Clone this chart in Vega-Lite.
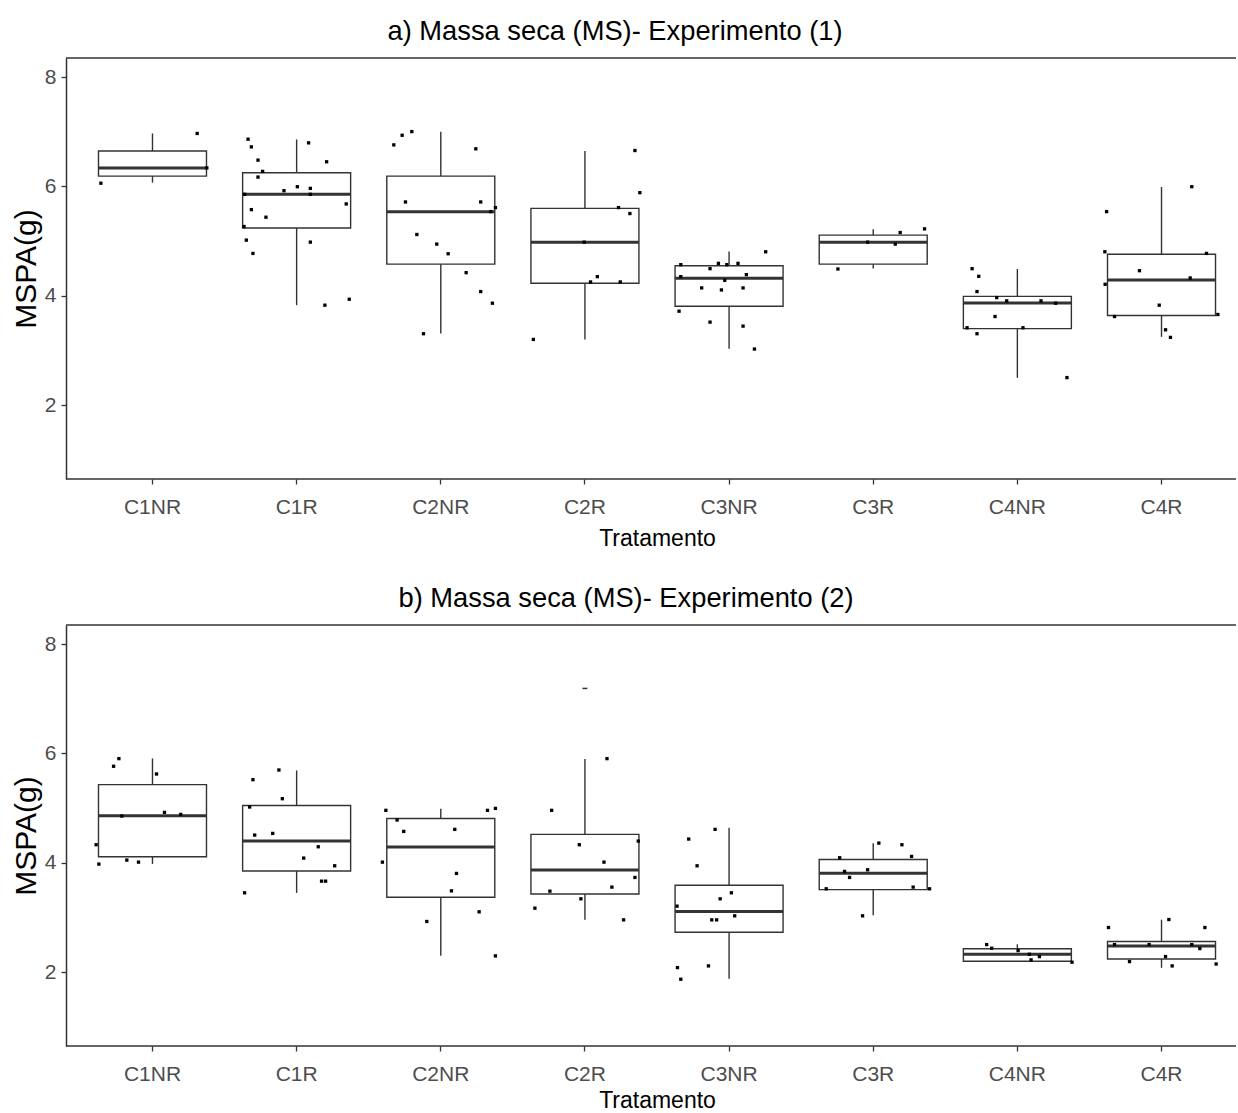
{
  "$schema": "https://vega.github.io/schema/vega-lite/v6.json",
  "padding": {"left": 11, "top": 17, "right": 0, "bottom": 0},
  "spacing": 34,
  "datasets": {
    "boxes": [
      {"e": "1", "t": "C1NR", "lo": 6.07, "q1": 6.19, "md": 6.34, "q3": 6.65, "hi": 6.97},
      {"e": "1", "t": "C1R", "lo": 3.83, "q1": 5.24, "md": 5.86, "q3": 6.25, "hi": 6.86},
      {"e": "1", "t": "C2NR", "lo": 3.31, "q1": 4.58, "md": 5.54, "q3": 6.19, "hi": 7.0},
      {"e": "1", "t": "C2R", "lo": 3.2, "q1": 4.23, "md": 4.98, "q3": 5.6, "hi": 6.65},
      {"e": "1", "t": "C3NR", "lo": 3.03, "q1": 3.81, "md": 4.32, "q3": 4.55, "hi": 4.81},
      {"e": "1", "t": "C3R", "lo": 4.5, "q1": 4.58, "md": 4.98, "q3": 5.11, "hi": 5.22},
      {"e": "1", "t": "C4NR", "lo": 2.5, "q1": 3.4, "md": 3.87, "q3": 3.99, "hi": 4.49},
      {"e": "1", "t": "C4R", "lo": 3.25, "q1": 3.64, "md": 4.29, "q3": 4.76, "hi": 5.99},
      {"e": "2", "t": "C1NR", "lo": 3.98, "q1": 4.11, "md": 4.86, "q3": 5.43, "hi": 5.91},
      {"e": "2", "t": "C1R", "lo": 3.45, "q1": 3.85, "md": 4.4, "q3": 5.05, "hi": 5.69},
      {"e": "2", "t": "C2NR", "lo": 2.3, "q1": 3.37, "md": 4.29, "q3": 4.81, "hi": 4.99},
      {"e": "2", "t": "C2R", "lo": 2.96, "q1": 3.43, "md": 3.87, "q3": 4.52, "hi": 5.9},
      {"e": "2", "t": "C3NR", "lo": 1.88, "q1": 2.73, "md": 3.11, "q3": 3.59, "hi": 4.64},
      {"e": "2", "t": "C3R", "lo": 3.04, "q1": 3.51, "md": 3.81, "q3": 4.06, "hi": 4.36},
      {"e": "2", "t": "C4NR", "lo": 2.2, "q1": 2.2, "md": 2.33, "q3": 2.43, "hi": 2.51},
      {"e": "2", "t": "C4R", "lo": 2.08, "q1": 2.24, "md": 2.48, "q3": 2.56, "hi": 2.96}
    ],
    "outliers": [
      {"e": "2", "t": "C2R", "v": 7.19}
    ],
    "points": [
      {"e": "1", "t": "C1NR", "v": 6.97, "j": 0.31},
      {"e": "1", "t": "C1NR", "v": 6.06, "j": -0.358},
      {"e": "1", "t": "C1NR", "v": 6.34, "j": 0.377},
      {"e": "1", "t": "C1R", "v": 6.865, "j": -0.337},
      {"e": "1", "t": "C1R", "v": 6.725, "j": -0.314},
      {"e": "1", "t": "C1R", "v": 6.798, "j": 0.083},
      {"e": "1", "t": "C1R", "v": 6.482, "j": -0.268},
      {"e": "1", "t": "C1R", "v": 6.452, "j": 0.208},
      {"e": "1", "t": "C1R", "v": 6.276, "j": -0.236},
      {"e": "1", "t": "C1R", "v": 6.172, "j": -0.268},
      {"e": "1", "t": "C1R", "v": 5.923, "j": -0.088},
      {"e": "1", "t": "C1R", "v": 5.996, "j": 0.005},
      {"e": "1", "t": "C1R", "v": 5.966, "j": 0.095},
      {"e": "1", "t": "C1R", "v": 5.857, "j": 0.095},
      {"e": "1", "t": "C1R", "v": 5.857, "j": -0.361},
      {"e": "1", "t": "C1R", "v": 5.681, "j": 0.344},
      {"e": "1", "t": "C1R", "v": 5.577, "j": -0.314},
      {"e": "1", "t": "C1R", "v": 5.438, "j": -0.213},
      {"e": "1", "t": "C1R", "v": 5.268, "j": -0.365},
      {"e": "1", "t": "C1R", "v": 5.019, "j": -0.349},
      {"e": "1", "t": "C1R", "v": 4.982, "j": 0.095},
      {"e": "1", "t": "C1R", "v": 4.776, "j": -0.303},
      {"e": "1", "t": "C1R", "v": 3.829, "j": 0.196},
      {"e": "1", "t": "C1R", "v": 3.938, "j": 0.365},
      {"e": "1", "t": "C2NR", "v": 6.761, "j": -0.326},
      {"e": "1", "t": "C2NR", "v": 6.937, "j": -0.268},
      {"e": "1", "t": "C2NR", "v": 7.004, "j": -0.201},
      {"e": "1", "t": "C2NR", "v": 6.689, "j": 0.243},
      {"e": "1", "t": "C2NR", "v": 5.717, "j": -0.245},
      {"e": "1", "t": "C2NR", "v": 5.717, "j": 0.277},
      {"e": "1", "t": "C2NR", "v": 5.614, "j": 0.379},
      {"e": "1", "t": "C2NR", "v": 5.541, "j": 0.347},
      {"e": "1", "t": "C2NR", "v": 5.122, "j": -0.166},
      {"e": "1", "t": "C2NR", "v": 4.946, "j": -0.028},
      {"e": "1", "t": "C2NR", "v": 4.77, "j": 0.051},
      {"e": "1", "t": "C2NR", "v": 4.424, "j": 0.176},
      {"e": "1", "t": "C2NR", "v": 4.078, "j": 0.277},
      {"e": "1", "t": "C2NR", "v": 3.865, "j": 0.358},
      {"e": "1", "t": "C2NR", "v": 3.307, "j": -0.12},
      {"e": "1", "t": "C2R", "v": 6.658, "j": 0.347},
      {"e": "1", "t": "C2R", "v": 5.887, "j": 0.381},
      {"e": "1", "t": "C2R", "v": 5.614, "j": 0.233},
      {"e": "1", "t": "C2R", "v": 5.505, "j": 0.312},
      {"e": "1", "t": "C2R", "v": 4.982, "j": -0.005},
      {"e": "1", "t": "C2R", "v": 4.351, "j": 0.086},
      {"e": "1", "t": "C2R", "v": 4.254, "j": 0.039},
      {"e": "1", "t": "C2R", "v": 4.254, "j": 0.245},
      {"e": "1", "t": "C2R", "v": 3.203, "j": -0.358},
      {"e": "1", "t": "C3NR", "v": 4.57, "j": -0.335},
      {"e": "1", "t": "C3NR", "v": 4.594, "j": -0.074},
      {"e": "1", "t": "C3NR", "v": 4.57, "j": -0.016},
      {"e": "1", "t": "C3NR", "v": 4.594, "j": 0.062},
      {"e": "1", "t": "C3NR", "v": 4.497, "j": -0.132},
      {"e": "1", "t": "C3NR", "v": 4.806, "j": 0.254},
      {"e": "1", "t": "C3NR", "v": 4.351, "j": -0.335},
      {"e": "1", "t": "C3NR", "v": 4.387, "j": 0.12},
      {"e": "1", "t": "C3NR", "v": 4.284, "j": -0.03},
      {"e": "1", "t": "C3NR", "v": 4.145, "j": -0.19},
      {"e": "1", "t": "C3NR", "v": 4.108, "j": -0.053},
      {"e": "1", "t": "C3NR", "v": 4.145, "j": 0.097},
      {"e": "1", "t": "C3NR", "v": 3.719, "j": -0.347},
      {"e": "1", "t": "C3NR", "v": 3.519, "j": -0.132},
      {"e": "1", "t": "C3NR", "v": 3.446, "j": 0.097},
      {"e": "1", "t": "C3NR", "v": 3.027, "j": 0.176},
      {"e": "1", "t": "C3R", "v": 5.225, "j": 0.356},
      {"e": "1", "t": "C3R", "v": 5.158, "j": 0.187},
      {"e": "1", "t": "C3R", "v": 4.982, "j": -0.039},
      {"e": "1", "t": "C3R", "v": 4.946, "j": 0.153},
      {"e": "1", "t": "C3R", "v": 4.491, "j": -0.245},
      {"e": "1", "t": "C4NR", "v": 4.497, "j": -0.314},
      {"e": "1", "t": "C4NR", "v": 4.357, "j": -0.268},
      {"e": "1", "t": "C4NR", "v": 4.078, "j": -0.28},
      {"e": "1", "t": "C4NR", "v": 3.968, "j": -0.143},
      {"e": "1", "t": "C4NR", "v": 3.908, "j": -0.074},
      {"e": "1", "t": "C4NR", "v": 3.908, "j": 0.164},
      {"e": "1", "t": "C4NR", "v": 3.865, "j": 0.266},
      {"e": "1", "t": "C4NR", "v": 3.622, "j": -0.155},
      {"e": "1", "t": "C4NR", "v": 3.416, "j": -0.349},
      {"e": "1", "t": "C4NR", "v": 3.416, "j": 0.039},
      {"e": "1", "t": "C4NR", "v": 3.307, "j": -0.28},
      {"e": "1", "t": "C4NR", "v": 2.505, "j": 0.344},
      {"e": "1", "t": "C4R", "v": 5.996, "j": 0.21},
      {"e": "1", "t": "C4R", "v": 5.541, "j": -0.381},
      {"e": "1", "t": "C4R", "v": 4.806, "j": -0.393},
      {"e": "1", "t": "C4R", "v": 4.776, "j": 0.312},
      {"e": "1", "t": "C4R", "v": 4.46, "j": -0.153},
      {"e": "1", "t": "C4R", "v": 4.211, "j": -0.391},
      {"e": "1", "t": "C4R", "v": 4.327, "j": 0.199},
      {"e": "1", "t": "C4R", "v": 3.829, "j": -0.016},
      {"e": "1", "t": "C4R", "v": 3.622, "j": -0.326},
      {"e": "1", "t": "C4R", "v": 3.659, "j": 0.391},
      {"e": "1", "t": "C4R", "v": 3.379, "j": 0.028},
      {"e": "1", "t": "C4R", "v": 3.24, "j": 0.062},
      {"e": "2", "t": "C1NR", "v": 5.906, "j": -0.233},
      {"e": "2", "t": "C1NR", "v": 5.766, "j": -0.27},
      {"e": "2", "t": "C1NR", "v": 5.625, "j": 0.028},
      {"e": "2", "t": "C1NR", "v": 4.856, "j": -0.213},
      {"e": "2", "t": "C1NR", "v": 4.923, "j": 0.083},
      {"e": "2", "t": "C1NR", "v": 4.886, "j": 0.196},
      {"e": "2", "t": "C1NR", "v": 4.331, "j": -0.391},
      {"e": "2", "t": "C1NR", "v": 3.977, "j": -0.372},
      {"e": "2", "t": "C1NR", "v": 4.05, "j": -0.178},
      {"e": "2", "t": "C1NR", "v": 4.013, "j": -0.097},
      {"e": "2", "t": "C1R", "v": 5.698, "j": -0.123},
      {"e": "2", "t": "C1R", "v": 5.521, "j": -0.303},
      {"e": "2", "t": "C1R", "v": 5.173, "j": -0.099},
      {"e": "2", "t": "C1R", "v": 5.021, "j": -0.326},
      {"e": "2", "t": "C1R", "v": 4.508, "j": -0.291},
      {"e": "2", "t": "C1R", "v": 4.538, "j": -0.166},
      {"e": "2", "t": "C1R", "v": 4.294, "j": 0.15},
      {"e": "2", "t": "C1R", "v": 4.087, "j": 0.049},
      {"e": "2", "t": "C1R", "v": 3.946, "j": 0.264},
      {"e": "2", "t": "C1R", "v": 3.665, "j": 0.173},
      {"e": "2", "t": "C1R", "v": 3.665, "j": 0.201},
      {"e": "2", "t": "C1R", "v": 3.452, "j": -0.361},
      {"e": "2", "t": "C2NR", "v": 4.96, "j": -0.381},
      {"e": "2", "t": "C2NR", "v": 4.783, "j": -0.303},
      {"e": "2", "t": "C2NR", "v": 4.96, "j": 0.324},
      {"e": "2", "t": "C2NR", "v": 4.996, "j": 0.379},
      {"e": "2", "t": "C2NR", "v": 4.575, "j": -0.257},
      {"e": "2", "t": "C2NR", "v": 4.612, "j": 0.097},
      {"e": "2", "t": "C2NR", "v": 4.013, "j": -0.405},
      {"e": "2", "t": "C2NR", "v": 3.806, "j": 0.109},
      {"e": "2", "t": "C2NR", "v": 3.488, "j": 0.074},
      {"e": "2", "t": "C2NR", "v": 3.104, "j": 0.266},
      {"e": "2", "t": "C2NR", "v": 2.927, "j": -0.097},
      {"e": "2", "t": "C2NR", "v": 2.298, "j": 0.379},
      {"e": "2", "t": "C2R", "v": 5.906, "j": 0.153},
      {"e": "2", "t": "C2R", "v": 4.96, "j": -0.231},
      {"e": "2", "t": "C2R", "v": 4.331, "j": -0.039},
      {"e": "2", "t": "C2R", "v": 4.398, "j": 0.37},
      {"e": "2", "t": "C2R", "v": 4.013, "j": 0.132},
      {"e": "2", "t": "C2R", "v": 3.733, "j": 0.347},
      {"e": "2", "t": "C2R", "v": 3.556, "j": 0.187},
      {"e": "2", "t": "C2R", "v": 3.482, "j": -0.243},
      {"e": "2", "t": "C2R", "v": 3.342, "j": -0.028},
      {"e": "2", "t": "C2R", "v": 3.171, "j": -0.347},
      {"e": "2", "t": "C2R", "v": 2.957, "j": 0.268},
      {"e": "2", "t": "C3NR", "v": 4.612, "j": -0.097},
      {"e": "2", "t": "C3NR", "v": 4.435, "j": -0.28},
      {"e": "2", "t": "C3NR", "v": 3.946, "j": -0.222},
      {"e": "2", "t": "C3NR", "v": 3.452, "j": 0.016},
      {"e": "2", "t": "C3NR", "v": 3.342, "j": -0.062},
      {"e": "2", "t": "C3NR", "v": 3.208, "j": -0.361},
      {"e": "2", "t": "C3NR", "v": 3.031, "j": 0.039},
      {"e": "2", "t": "C3NR", "v": 2.957, "j": -0.12},
      {"e": "2", "t": "C3NR", "v": 2.957, "j": -0.086},
      {"e": "2", "t": "C3NR", "v": 2.084, "j": -0.358},
      {"e": "2", "t": "C3NR", "v": 2.115, "j": -0.143},
      {"e": "2", "t": "C3NR", "v": 1.871, "j": -0.335},
      {"e": "2", "t": "C3R", "v": 4.361, "j": 0.039},
      {"e": "2", "t": "C3R", "v": 4.331, "j": 0.199},
      {"e": "2", "t": "C3R", "v": 4.093, "j": -0.233},
      {"e": "2", "t": "C3R", "v": 4.117, "j": 0.266},
      {"e": "2", "t": "C3R", "v": 3.843, "j": -0.199},
      {"e": "2", "t": "C3R", "v": 3.873, "j": -0.039},
      {"e": "2", "t": "C3R", "v": 3.733, "j": -0.164},
      {"e": "2", "t": "C3R", "v": 3.525, "j": -0.326},
      {"e": "2", "t": "C3R", "v": 3.556, "j": 0.277},
      {"e": "2", "t": "C3R", "v": 3.525, "j": 0.391},
      {"e": "2", "t": "C3R", "v": 3.031, "j": -0.074},
      {"e": "2", "t": "C4NR", "v": 2.505, "j": -0.213},
      {"e": "2", "t": "C4NR", "v": 2.438, "j": -0.178},
      {"e": "2", "t": "C4NR", "v": 2.396, "j": 0.005},
      {"e": "2", "t": "C4NR", "v": 2.328, "j": 0.083},
      {"e": "2", "t": "C4NR", "v": 2.286, "j": 0.153},
      {"e": "2", "t": "C4NR", "v": 2.225, "j": 0.095},
      {"e": "2", "t": "C4NR", "v": 2.182, "j": 0.379},
      {"e": "2", "t": "C4R", "v": 2.963, "j": 0.051},
      {"e": "2", "t": "C4R", "v": 2.817, "j": -0.368},
      {"e": "2", "t": "C4R", "v": 2.817, "j": 0.301},
      {"e": "2", "t": "C4R", "v": 2.505, "j": -0.326},
      {"e": "2", "t": "C4R", "v": 2.505, "j": -0.086},
      {"e": "2", "t": "C4R", "v": 2.505, "j": 0.21},
      {"e": "2", "t": "C4R", "v": 2.432, "j": 0.266},
      {"e": "2", "t": "C4R", "v": 2.286, "j": 0.028},
      {"e": "2", "t": "C4R", "v": 2.194, "j": -0.222},
      {"e": "2", "t": "C4R", "v": 2.115, "j": 0.074},
      {"e": "2", "t": "C4R", "v": 2.15, "j": 0.379}
    ]
  },
  "vconcat": [
    {
      "width": 1170,
      "height": 421,
      "title": {"text": "a) Massa seca (MS)- Experimento (1)", "dx": -36},
      "layer": [
        {"data": {"name": "boxes"}, "transform": [{"filter": "datum.e == '1'"}], "mark": {"type": "rule", "color": "#333333", "strokeWidth": 1.4},
         "encoding": {
           "x": {"field": "t", "type": "nominal", "sort": ["C1NR","C1R","C2NR","C2R","C3NR","C3R","C4NR","C4R"], "scale": {"type": "band", "paddingInner": 0, "paddingOuter": 0.1, "range": [0, 1182]}, "axis": {"title": "Tratamento"}},
           "y": {"field": "lo", "type": "quantitative", "scale": {"domain": [0.65, 8.35], "nice": false, "zero": false}, "axis": {"title": "MSPA(g)", "values": [2, 4, 6, 8], "format": "d"}},
           "y2": {"field": "hi"}}},
        {"data": {"name": "boxes"}, "transform": [{"filter": "datum.e == '1'"}], "mark": {"type": "bar", "fill": "white", "stroke": "#333333", "strokeWidth": 1.4, "width": 108},
         "encoding": {"x": {"field": "t", "type": "nominal"}, "y": {"field": "q1", "type": "quantitative"}, "y2": {"field": "q3"}}},
        {"data": {"name": "boxes"}, "transform": [{"filter": "datum.e == '1'"}], "mark": {"type": "tick", "color": "#333333", "opacity": 1, "thickness": 3, "size": 108},
         "encoding": {"x": {"field": "t", "type": "nominal"}, "y": {"field": "md", "type": "quantitative"}}},
        {"data": {"name": "points"}, "transform": [{"filter": "datum.e == '1'"}], "mark": {"type": "point", "shape": "square", "filled": true, "color": "black", "size": 11, "opacity": 1},
         "encoding": {"x": {"field": "t", "type": "nominal"}, "xOffset": {"field": "j", "type": "quantitative", "scale": {"domain": [-0.5, 0.5]}}, "y": {"field": "v", "type": "quantitative"}}},
        {"data": {"values": [{}]}, "mark": {"type": "rule", "color": "#333333", "strokeWidth": 1.5}, "encoding": {"y": {"datum": 8.35}}},
        {"data": {"values": [{}]}, "mark": {"type": "rule", "color": "#333333", "strokeWidth": 1.5}, "encoding": {"y": {"datum": 0.65}}}
      ]
    },
    {
      "width": 1170,
      "height": 421,
      "title": {"text": "b) Massa seca (MS)- Experimento (2)", "dx": -25},
      "layer": [
        {"data": {"name": "boxes"}, "transform": [{"filter": "datum.e == '2'"}], "mark": {"type": "rule", "color": "#333333", "strokeWidth": 1.4},
         "encoding": {
           "x": {"field": "t", "type": "nominal", "sort": ["C1NR","C1R","C2NR","C2R","C3NR","C3R","C4NR","C4R"], "scale": {"type": "band", "paddingInner": 0, "paddingOuter": 0.1, "range": [0, 1182]}, "axis": {"title": "Tratamento", "titlePadding": 5}},
           "y": {"field": "lo", "type": "quantitative", "scale": {"domain": [0.65, 8.35], "nice": false, "zero": false}, "axis": {"title": "MSPA(g)", "values": [2, 4, 6, 8], "format": "d"}},
           "y2": {"field": "hi"}}},
        {"data": {"name": "boxes"}, "transform": [{"filter": "datum.e == '2'"}], "mark": {"type": "bar", "fill": "white", "stroke": "#333333", "strokeWidth": 1.4, "width": 108},
         "encoding": {"x": {"field": "t", "type": "nominal"}, "y": {"field": "q1", "type": "quantitative"}, "y2": {"field": "q3"}}},
        {"data": {"name": "boxes"}, "transform": [{"filter": "datum.e == '2'"}], "mark": {"type": "tick", "color": "#333333", "opacity": 1, "thickness": 3, "size": 108},
         "encoding": {"x": {"field": "t", "type": "nominal"}, "y": {"field": "md", "type": "quantitative"}}},
        {"data": {"name": "outliers"}, "mark": {"type": "tick", "color": "#333333", "opacity": 1, "thickness": 1.5, "size": 5},
         "encoding": {"x": {"field": "t", "type": "nominal"}, "y": {"field": "v", "type": "quantitative"}}},
        {"data": {"name": "points"}, "transform": [{"filter": "datum.e == '2'"}], "mark": {"type": "point", "shape": "square", "filled": true, "color": "black", "size": 11, "opacity": 1},
         "encoding": {"x": {"field": "t", "type": "nominal"}, "xOffset": {"field": "j", "type": "quantitative", "scale": {"domain": [-0.5, 0.5]}}, "y": {"field": "v", "type": "quantitative"}}},
        {"data": {"values": [{}]}, "mark": {"type": "rule", "color": "#333333", "strokeWidth": 1.5}, "encoding": {"y": {"datum": 8.35}}},
        {"data": {"values": [{}]}, "mark": {"type": "rule", "color": "#333333", "strokeWidth": 1.5}, "encoding": {"y": {"datum": 0.65}}}
      ]
    }
  ],
  "config": {
    "view": {"stroke": null},
    "title": {"font": "Liberation Sans", "fontSize": 27.3, "fontWeight": "normal", "color": "#000000", "anchor": "middle", "offset": 12},
    "axisX": {"domain": false, "grid": false, "labelAngle": 0, "tickSize": 5, "tickColor": "#333333", "tickWidth": 1.3, "labelFont": "Liberation Sans", "labelFontSize": 21, "labelColor": "#4D4D4D", "labelPadding": 12, "titleFont": "Liberation Sans", "titleFontSize": 23, "titleFontWeight": "normal", "titleColor": "#000000", "titlePadding": 10},
    "axisY": {"domain": true, "domainColor": "#333333", "domainWidth": 1.5, "grid": false, "tickSize": 5, "tickColor": "#333333", "tickWidth": 1.3, "labelFont": "Liberation Sans", "labelFontSize": 21, "labelColor": "#4D4D4D", "labelPadding": 5, "titleFont": "Liberation Sans", "titleFontSize": 30, "titleFontWeight": "normal", "titleColor": "#000000", "titlePadding": 3}
  }
}
